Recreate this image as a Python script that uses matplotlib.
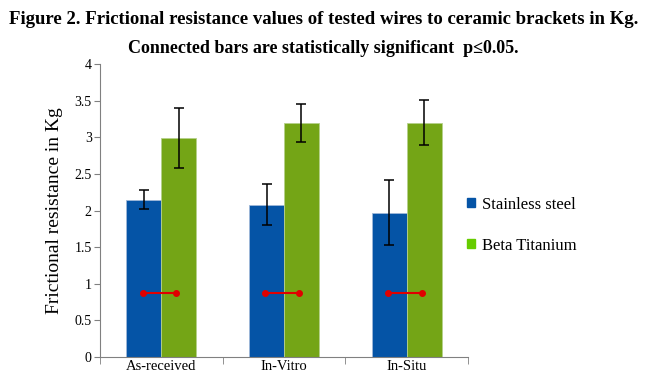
import numpy as np
import matplotlib
matplotlib.use("Agg")
import matplotlib.pyplot as plt
from matplotlib.patches import Patch

plt.rcParams['font.family'] = ['Liberation Serif', 'DejaVu Serif']

groups = ["As-received", "In-Vitro", "In-Situ"]
steel = [2.15, 2.08, 1.97]
steel_err = [0.13, 0.28, 0.44]
titanium = [2.99, 3.20, 3.20]
titanium_err = [0.41, 0.26, 0.31]
sig_level = [0.87, 0.87, 0.87]

blue = "#0554A6"
green = "#74A516"

fig = plt.figure(figsize=(6.47, 3.83), dpi=100)
ax = fig.add_axes([100 / 647, 26 / 383, 368 / 647, 293 / 383])

x = np.arange(len(groups))
w = 0.285
ax.bar(x - w / 2, steel, w, color=blue, edgecolor="#9FB8D8", linewidth=0.6,
       yerr=steel_err, capsize=3.5, error_kw=dict(ecolor="black", elinewidth=1.1, capthick=1.1))
ax.bar(x + w / 2, titanium, w, color=green, edgecolor="#B5D08A", linewidth=0.6,
       yerr=titanium_err, capsize=3.5, error_kw=dict(ecolor="black", elinewidth=1.1, capthick=1.1))

# significance connectors
for i in range(len(groups)):
    ax.plot([x[i] - w / 2 - 0.01, x[i] + w / 2 - 0.02], [sig_level[i]] * 2,
            color="#E00000", lw=1.5, marker="o", ms=4)

ax.set_xlim(-0.5, 2.5)
ax.set_ylim(0, 4)
ax.set_yticks(np.arange(0, 4.01, 0.5))
ax.set_yticklabels(["0", "0.5", "1", "1.5", "2", "2.5", "3", "3.5", "4"], fontsize=10)
ax.set_xticks(x)
ax.set_xticklabels(groups, fontsize=10.5)
ax.set_xticks([-0.5, 0.5, 1.5, 2.5], minor=True)
ax.tick_params(axis="x", which="major", length=0, pad=2)
ax.tick_params(axis="x", which="minor", length=5, color="#808080")
ax.tick_params(axis="y", length=4, color="#808080", pad=2)
for s in ["top", "right"]:
    ax.spines[s].set_visible(False)
for s in ["left", "bottom"]:
    ax.spines[s].set_color("#808080")

ax.set_ylabel("Frictional resistance in Kg", fontsize=14, labelpad=8)

handles = [Patch(color=blue), Patch(color="#66CC00")]
fig.legend(handles, ["Stainless steel", "Beta Titanium"], loc="center left",
           bbox_to_anchor=(452 / 647, 1 - 225 / 383), frameon=False, fontsize=12,
           handlelength=0.5, handleheight=0.5, handletextpad=0.4, labelspacing=1.5)

fig.text(0.5, 0.97, "Figure 2. Frictional resistance values of tested wires to ceramic brackets in Kg.",
         ha="center", va="top", fontsize=13.5, fontweight="bold")
fig.text(0.5, 0.895, "Connected bars are statistically significant  p\u22640.05.",
         ha="center", va="top", fontsize=13, fontweight="bold")

fig.savefig("out.png", dpi=100)
